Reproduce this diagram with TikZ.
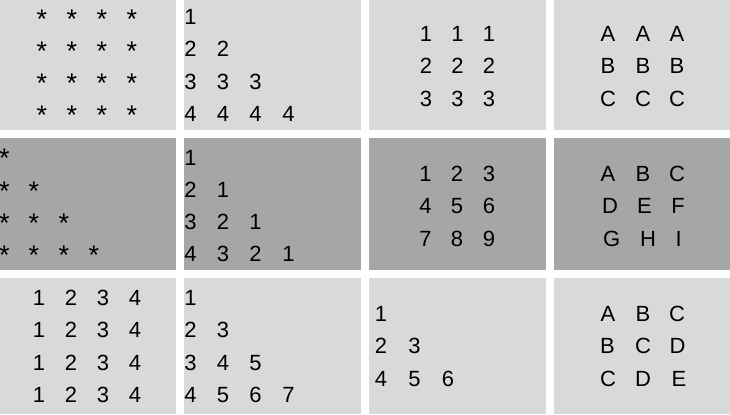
\documentclass[tikz,border=0pt]{standalone}
\usepackage{fontspec}
\setmainfont{Liberation Sans}
\definecolor{lightcell}{HTML}{D9D9D9}
\definecolor{darkcell}{HTML}{A6A6A6}
\tikzset{
  ch/.style={anchor=base, inner sep=0pt, outer sep=0pt, font=\fontsize{22bp}{26bp}\selectfont, text=black},
  star/.style={ch, font=\fontsize{27bp}{30bp}\selectfont},
  cellbox/.style={anchor=north west, inner sep=0pt, outer sep=0pt, draw=none},
  lightbox/.style={cellbox, fill=lightcell},
  darkbox/.style={cellbox, fill=darkcell},
}
\newcommand\glyphrow[3]{%
  \foreach \px/\ch [count=\i] in {#3} {\node[ch] (#1-\i) at (\px,#2) {\ch};}%
}
\newcommand\starrow[3]{%
  \foreach \px [count=\i] in {#3} {\node[star] (#1-\i) at (\px,#2) {*};}%
}
\begin{document}
\begin{tikzpicture}[x=1bp,y=-1bp]
\useasboundingbox (0,0) rectangle (730,414);
\fill[white] (0,0) rectangle (730,414);
% cells
\node[lightbox, minimum width=176bp, minimum height=130bp] (c11) at (0,0) {};
\node[lightbox, minimum width=177bp, minimum height=130bp] (c12) at (184,0) {};
\node[lightbox, minimum width=177bp, minimum height=130bp] (c13) at (369,0) {};
\node[lightbox, minimum width=176bp, minimum height=130bp] (c14) at (554,0) {};
\node[darkbox, minimum width=176bp, minimum height=132bp] (c21) at (0,138) {};
\node[darkbox, minimum width=177bp, minimum height=132bp] (c22) at (184,138) {};
\node[darkbox, minimum width=177bp, minimum height=132bp] (c23) at (369,138) {};
\node[darkbox, minimum width=176bp, minimum height=132bp] (c24) at (554,138) {};
\node[lightbox, minimum width=176bp, minimum height=136bp] (c31) at (0,278) {};
\node[lightbox, minimum width=177bp, minimum height=136bp] (c32) at (184,278) {};
\node[lightbox, minimum width=177bp, minimum height=136bp] (c33) at (369,278) {};
\node[lightbox, minimum width=176bp, minimum height=136bp] (c34) at (554,278) {};
% cell 1,1
\starrow{a1}{28.5}{42,72,102,132}
\starrow{a2}{60}{42,72,102,132}
\starrow{a3}{92.5}{42,72,102,132}
\starrow{a4}{124.5}{42,72,102,132}
% cell 1,2
\glyphrow{b1}{24}{190.5/1}
\glyphrow{b2}{56.5}{190.5/2,223/2}
\glyphrow{b3}{89}{190.5/3,223/3,255.5/3}
\glyphrow{b4}{121.5}{190.5/4,223/4,255.5/4,288.5/4}
% cell 1,3
\glyphrow{c1}{41.7}{426/1,457.5/1,489/1}
\glyphrow{c2}{73.7}{426/2,457.5/2,489/2}
\glyphrow{c3}{106}{426/3,457.5/3,489/3}
% cell 1,4
\glyphrow{d1}{41.7}{608/A,643/A,677/A}
\glyphrow{d2}{73.7}{608/B,643/B,677/B}
\glyphrow{d3}{106}{608/C,643/C,677/C}
% cell 2,1
\starrow{e1}{167.5}{4.5}
\starrow{e2}{200}{4.5,34}
\starrow{e3}{232}{4.5,34,64}
\starrow{e4}{264.5}{4.5,34,64,94}
% cell 2,2
\glyphrow{f1}{165}{190.5/1}
\glyphrow{f2}{197}{190.5/2,223/1}
\glyphrow{f3}{229.3}{190.5/3,223/2,255.5/1}
\glyphrow{f4}{261.7}{190.5/4,223/3,255.5/2,288.5/1}
% cell 2,3
\glyphrow{g1}{181.7}{425.5/1,457/2,489/3}
\glyphrow{g2}{213.5}{425.5/4,457/5,489/6}
\glyphrow{g3}{246}{425.5/7,457/8,489/9}
% cell 2,4
\glyphrow{h1}{181.7}{608/A,643/B,677/C}
\glyphrow{h2}{213.5}{610/D,644.5/E,678/F}
\glyphrow{h3}{246}{611.7/G,648/H,678.7/I}
% cell 3,1
\glyphrow{i1}{305}{39/1,71/2,103/3,135/4}
\glyphrow{i2}{337.5}{39/1,71/2,103/3,135/4}
\glyphrow{i3}{370}{39/1,71/2,103/3,135/4}
\glyphrow{i4}{402}{39/1,71/2,103/3,135/4}
% cell 3,2
\glyphrow{j1}{305}{190.5/1}
\glyphrow{j2}{337.5}{190.5/2,223/3}
\glyphrow{j3}{370}{190.5/3,223/4,255.5/5}
\glyphrow{j4}{402}{190.5/4,223/5,255.5/6,288.5/7}
% cell 3,3
\glyphrow{k1}{321.7}{381/1}
\glyphrow{k2}{353.5}{381/2,414.5/3}
\glyphrow{k3}{386}{381/4,414.5/5,448/6}
% cell 3,4
\glyphrow{l1}{321.7}{608/A,643/B,677/C}
\glyphrow{l2}{353.5}{607.5/B,643/C,677.5/D}
\glyphrow{l3}{386}{608/C,643/D,679/E}
\end{tikzpicture}
\end{document}
